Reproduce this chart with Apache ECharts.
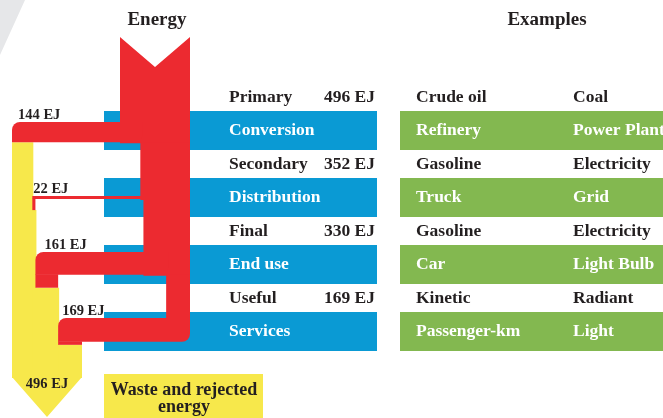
<!DOCTYPE html>
<html>
<head>
<meta charset="utf-8">
<script src="https://cdn.jsdelivr.net/npm/echarts@6/dist/echarts.min.js"></script>
<style>
  html, body { margin: 0; padding: 0; background: #fff; }
  #chart { width: 663px; height: 418px; }
</style>
</head>
<body>
<div id="chart"></div>
<script>
// energy at each stage, and the step that follows it
const stages = ['Primary', 'Secondary', 'Final', 'Useful']
const stageEJ = [496, 352, 330, 169]
const processes = ['Conversion', 'Distribution', 'End use', 'Services']
// energy lost at each step (ends up in the yellow column)
const lossEJ = [144, 22, 161, 169]
const wasteEJ = 496
// examples, two columns
const exampleStageA = ['Crude oil', 'Gasoline', 'Gasoline', 'Kinetic']
const exampleProcA = ['Refinery', 'Truck', 'Car', 'Passenger-km']
const exampleStageB = ['Coal', 'Electricity', 'Electricity', 'Radiant']
const exampleProcB = ['Power Plant', 'Grid', 'Light Bulb', 'Light']

const RED = '#ec2a30'
const BLUE = '#0a9ad4'
const GREEN = '#83b850'
const YELLOW = '#f7e84b'
const INK = '#231f20'
const FONT = '"Liberation Serif", "Times New Roman", serif'

// layout
const k = 70 / 496 // px per EJ
const trunkRight = 190
const trunkTop = 37
const notch = 30
const rowTop = 111
const rowStep = 67
const bandH = 39
const branchTop = [122, 196, 252, 318]
const legExtra = [0, 11, 13, 3]
const labelDx = [6, 1, 9, 4]
const wasteLeft = 12
const arrowY = 377

const myChart = echarts.init(document.getElementById('chart'))

function rectOf(api, x, y, w, h) {
  const a = api.coord([x, y])
  const b = api.coord([x + w, y + h])
  return { x: a[0], y: a[1], width: b[0] - a[0], height: b[1] - a[1] }
}

function txt(api, x, y, text, opts) {
  const p = api.coord([x, y])
  return {
    type: 'text',
    style: Object.assign({
      x: p[0], y: p[1], text: text, fill: INK,
      font: 'bold 17.5px ' + FONT, align: 'left', verticalAlign: 'middle'
    }, opts || {})
  }
}

// table rows: stage line + blue/green step bands
function renderRow(params, api) {
  const i = params.dataIndex
  const top = rowTop + i * rowStep
  const ty = top - 14
  const by = top + bandH / 2
  return {
    type: 'group',
    children: [
      { type: 'rect', shape: rectOf(api, 104, top, 273, bandH), style: { fill: BLUE } },
      { type: 'rect', shape: rectOf(api, 400, top, 263, bandH), style: { fill: GREEN } },
      txt(api, 229, ty, stages[i]),
      txt(api, 375, ty, api.value(1) + ' EJ', { align: 'right' }),
      txt(api, 229, by, processes[i], { fill: '#fff' }),
      txt(api, 416, ty, exampleStageA[i]),
      txt(api, 573, ty, exampleStageB[i]),
      txt(api, 416, by, exampleProcA[i], { fill: '#fff' }),
      txt(api, 573, by, exampleProcB[i], { fill: '#fff' })
    ]
  }
}

// main red trunk, narrowing after each loss
function renderTrunk(params, api) {
  const i = params.dataIndex
  const inW = k * api.value(1)
  const L = trunkRight - inW
  const last = i === lossEJ.length - 1
  const segTop = i === 0 ? trunkTop : branchTop[i - 1] + k * lossEJ[i - 1]
  const segBottom = last ? branchTop[i] + 1 : branchTop[i] + k * lossEJ[i] + 1
  let pts
  if (i === 0) {
    pts = [[L, segBottom], [L, trunkTop], [L + inW / 2, trunkTop + notch], [trunkRight, trunkTop], [trunkRight, segBottom]]
  } else {
    pts = [[L, segBottom], [L, segTop], [trunkRight, segTop], [trunkRight, segBottom]]
  }
  return { type: 'polygon', shape: { points: pts.map((p) => api.coord(p)) }, style: { fill: RED } }
}

// loss branch going out to the yellow column
function renderFlow(params, api) {
  const i = params.dataIndex
  const loss = api.value(1)
  const cum = lossEJ.slice(0, i).reduce((a, b) => a + b, 0)
  const x = wasteLeft + k * cum
  const w = k * loss
  const top = branchTop[i]
  const bottom = top + w
  const outW = k * (stageEJ[i] - loss)
  const last = i === lossEJ.length - 1
  const children = []

  // yellow strip under the branch
  const yTop = bottom + legExtra[i]
  children.push({
    type: 'rect',
    shape: rectOf(api, x, yTop, w + (last ? 0 : 1), arrowY + 1 - yTop),
    style: { fill: YELLOW }
  })

  // horizontal branch
  if (last) {
    children.push({
      type: 'rect',
      shape: Object.assign(rectOf(api, x, top, trunkRight - x, w), { r: [8, 0, 8, 0] }),
      style: { fill: RED }
    })
  } else {
    const bx = trunkRight - outW + 2
    children.push({
      type: 'rect',
      shape: Object.assign(rectOf(api, x, top, bx - x, w), { r: w > 8 ? [8, 0, 7, 0] : 0 }),
      style: { fill: RED }
    })
  }

  // leg down to the yellow column
  if (legExtra[i] > 0) {
    children.push({
      type: 'rect',
      shape: rectOf(api, x, bottom - 0.5, w, legExtra[i] + 0.5),
      style: { fill: RED }
    })
  }

  children.push(txt(api, x + labelDx[i], top - 6.5, loss + ' EJ', { font: 'bold 14.5px ' + FONT }))

  return { type: 'group', children: children }
}

// arrow head of the waste column
function renderWaste(params, api) {
  const W = k * api.value(0)
  const pts = [
    [wasteLeft, arrowY], [wasteLeft + W, arrowY], [wasteLeft + W / 2, arrowY + 40]
  ].map((p) => api.coord(p))
  return {
    type: 'group',
    children: [
      { type: 'polygon', shape: { points: pts }, style: { fill: YELLOW } },
      txt(api, wasteLeft + W / 2, arrowY + 7, api.value(0) + ' EJ', { font: 'bold 14.5px ' + FONT, align: 'center' })
    ]
  }
}

const option = {
  animation: false,
  grid: { left: 0, right: 0, top: 0, bottom: 0 },
  xAxis: { type: 'value', min: 0, max: 663, show: false },
  yAxis: { type: 'value', min: 0, max: 418, inverse: true, show: false },
  graphic: [
    { type: 'polygon', z: -1, shape: { points: [[0, 0], [25, 0], [0, 55]] }, style: { fill: '#e6e7e9' } },
    { type: 'text', x: 157, y: 20, style: { text: 'Energy', font: 'bold 19px ' + FONT, fill: INK, align: 'center', verticalAlign: 'middle' } },
    { type: 'text', x: 547, y: 20, style: { text: 'Examples', font: 'bold 19px ' + FONT, fill: INK, align: 'center', verticalAlign: 'middle' } },
    { type: 'rect', shape: { x: 104, y: 374, width: 159, height: 44 }, style: { fill: YELLOW } },
    { type: 'text', x: 184, y: 390, style: { text: 'Waste and rejected', font: 'bold 18px ' + FONT, fill: INK, align: 'center', verticalAlign: 'middle' } },
    { type: 'text', x: 184, y: 407, style: { text: 'energy', font: 'bold 18px ' + FONT, fill: INK, align: 'center', verticalAlign: 'middle' } }
  ],
  series: [
    {
      type: 'custom',
      clip: false,
      z: 1,
      data: stages.map((s, i) => [i, stageEJ[i]]),
      renderItem: renderRow
    },
    {
      type: 'custom',
      clip: false,
      z: 2,
      data: stageEJ.map((v, i) => [i, v]),
      renderItem: renderTrunk
    },
    {
      type: 'custom',
      clip: false,
      z: 3,
      data: lossEJ.map((v, i) => [i, v]),
      renderItem: renderFlow
    },
    {
      type: 'custom',
      clip: false,
      z: 3,
      data: [[wasteEJ]],
      renderItem: renderWaste
    }
  ]
}

myChart.setOption(option)
</script>
</body>
</html>
